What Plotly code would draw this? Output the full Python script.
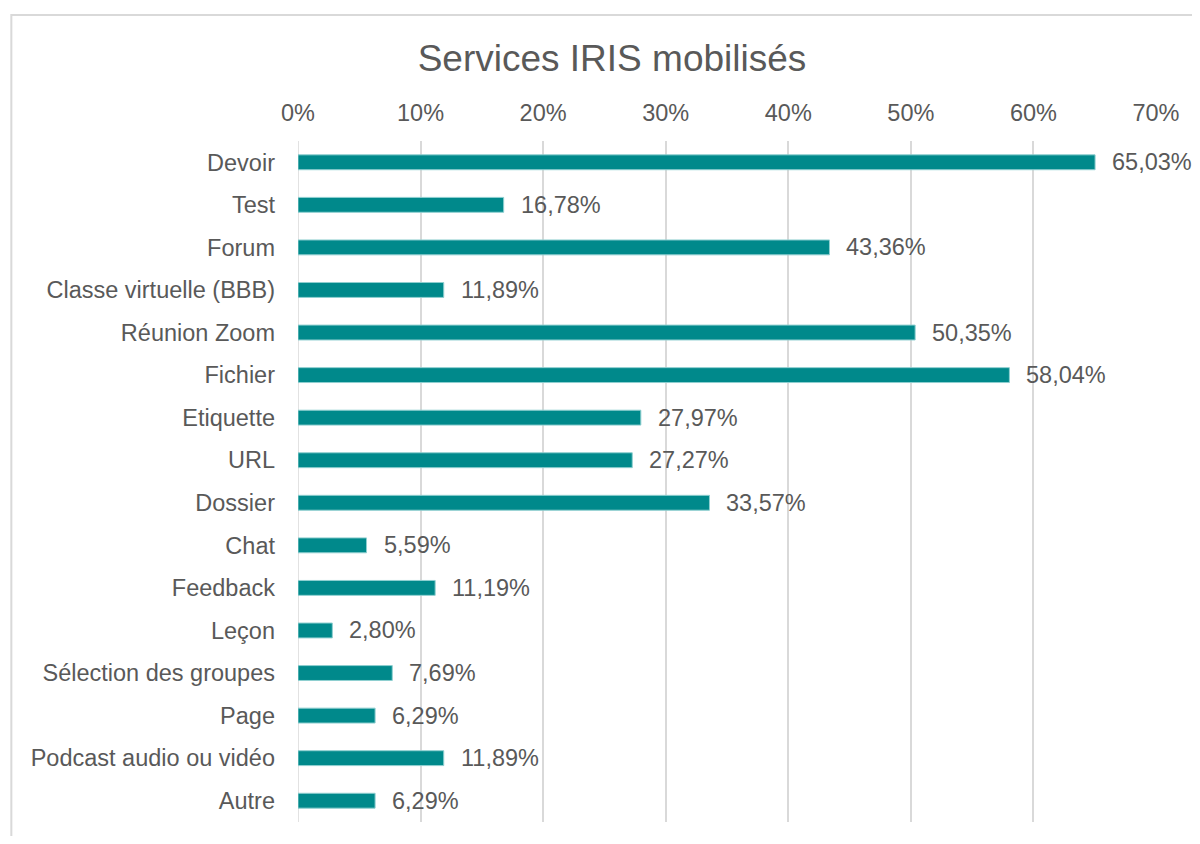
import plotly.graph_objects as go

categories = ["Devoir", "Test", "Forum", "Classe virtuelle (BBB)", "Réunion Zoom", "Fichier",
              "Etiquette", "URL", "Dossier", "Chat", "Feedback", "Leçon",
              "Sélection des groupes", "Page", "Podcast audio ou vidéo", "Autre"]
values = [65.03, 16.78, 43.36, 11.89, 50.35, 58.04, 27.97, 27.27, 33.57, 5.59, 11.19, 2.80,
          7.69, 6.29, 11.89, 6.29]
tick_vals = [0, 10, 20, 30, 40, 50, 60, 70]
tick_text = [f"{t}%" for t in tick_vals]
labels = [f"{v:.2f}".replace(".", ",") + "%" for v in values]

GRAY = "#595959"
FONT = "Liberation Sans, Arial, sans-serif"
FS = 23.5
W, H = 1184, 828

fig = go.Figure()
fig.add_trace(go.Bar(
    y=categories, x=values, orientation="h",
    marker=dict(color="#00898B", line=dict(color="#8fcfd0", width=1)),
    hoverinfo="skip",
))

annotations = [
    dict(x=v, y=c, xref="x", yref="y", text=t, showarrow=False,
         xanchor="left", yanchor="middle", xshift=15,
         font=dict(size=FS, color=GRAY, family=FONT))
    for c, v, t in zip(categories, values, labels)
]

fig.update_layout(
    width=W, height=H,
    margin=dict(l=290, r=32, t=133, b=14),
    paper_bgcolor="white", plot_bgcolor="white",
    font=dict(family=FONT, color=GRAY, size=FS),
    title=dict(text="Services IRIS mobilisés", x=604 / W, xanchor="center",
               y=1 - 50 / H, yanchor="middle",
               font=dict(size=37, color=GRAY, family=FONT)),
    bargap=0.65,
    showlegend=False,
    annotations=annotations,
    xaxis=dict(side="top", range=[0, 70], tickvals=tick_vals, ticktext=tick_text,
               showgrid=True, gridcolor="#d9d9d9", gridwidth=1.5,
               zeroline=False, showline=False, ticks="",
               ticklabelstandoff=14,
               tickfont=dict(size=FS, color=GRAY, family=FONT)),
    yaxis=dict(autorange="reversed", showgrid=False, showline=False, ticks="",
               ticklabelstandoff=22,
               tickfont=dict(size=FS, color=GRAY, family=FONT)),
    shapes=[dict(type="rect", xref="paper", yref="paper",
                 x0=(10 - 298) / 862, x1=1.2, y0=-0.2, y1=(822 - 15) / 681,
                 line=dict(color="#d9d9d9", width=2), fillcolor="rgba(0,0,0,0)",
                 layer="below")],
)
fig.add_shape(type="line", xref="x", yref="paper", x0=0, x1=0, y0=0, y1=1,
              line=dict(color="#d9d9d9", width=1.5), layer="below")

fig.write_html("out.html")
